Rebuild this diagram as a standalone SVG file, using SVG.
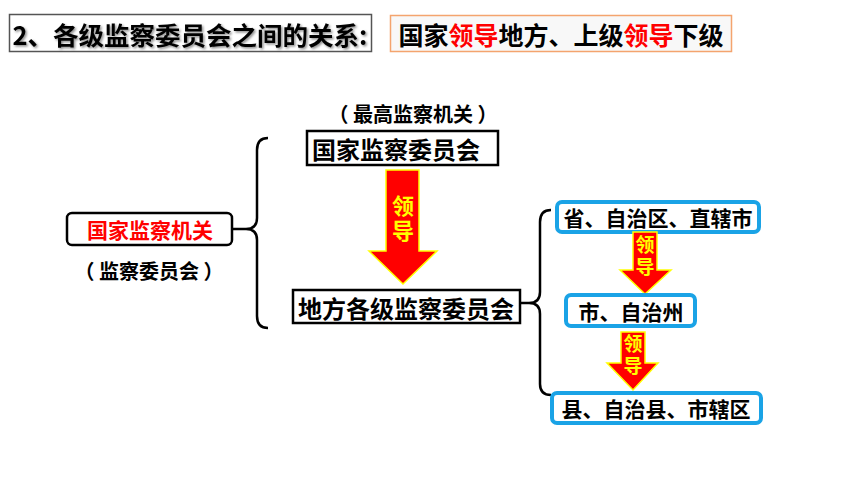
<svg xmlns="http://www.w3.org/2000/svg" width="860" height="484" viewBox="0 0 860 484">
<defs>
<style>
text{font-family:"Noto Sans CJK SC","Noto Sans",sans-serif;font-weight:bold;text-anchor:middle;dominant-baseline:central}
.blk{fill:#000}
.red{fill:#ff0000}
.ylw{fill:#ffff00}
.vt{writing-mode:vertical-rl;text-orientation:upright;letter-spacing:3px}
.box{fill:#fff;stroke:#000;stroke-width:2.5}
.bbox{fill:#fff;stroke:#1aa3e6;stroke-width:4}
.arrow{fill:#ff0000;stroke:#ffff00;stroke-width:1.5}
.brace{fill:none;stroke:#000;stroke-width:2.5}
</style>
<filter id="sh" x="-5%" y="-20%" width="110%" height="140%">
<feDropShadow dx="1.5" dy="1.5" stdDeviation="0.8" flood-color="#000" flood-opacity="0.45"/>
</filter>
</defs>
<rect width="860" height="484" fill="#fff"/>

<g id="title">
<rect x="9.5" y="14.5" width="362" height="37" fill="#fff" stroke="#555" stroke-width="1.5"/>
<text x="190" y="33" font-size="25.5" class="blk" filter="url(#sh)">2、各级监察委员会之间的关系:</text>
</g>

<g id="principle">
<rect x="390.5" y="15.5" width="341" height="36" fill="#f8f8f8" stroke="#f4a46e" stroke-width="1.5"/>
<text x="561" y="34" font-size="25" class="blk">国家<tspan class="red">领导</tspan>地方、上级<tspan class="red">领导</tspan>下级</text>
</g>

<g id="connectors">
<path class="brace" d="M268,138 Q257,138 257,150 L257,218 Q257,229 246,229 L233,229 M246,229 Q257,229 257,240 L257,316 Q257,328 268,328"/>
<path class="brace" d="M551,210 Q540,210 540,222 L540,292 Q540,303 529,303 L520,303 M529,303 Q540,303 540,314 L540,384 Q540,395 551,395"/>
</g>

<g id="national-organ">
<rect class="box" x="67" y="213" width="165" height="32" rx="5"/>
<text x="150" y="229" font-size="21" class="red">国家监察机关</text>
<text x="149" y="270" font-size="20" class="blk" xml:space="preserve">（ 监察委员会 ）</text>
</g>

<g id="national-commission">
<text x="413" y="113" font-size="20" class="blk" xml:space="preserve">（ 最高监察机关 ）</text>
<rect class="box" x="307" y="131" width="191" height="34"/>
<text x="396" y="148" font-size="24" class="blk">国家监察委员会</text>
</g>

<g id="arrow-main">
<path class="arrow" d="M386,170 L419,170 L419,251 L437,251 L403,284 L369,251 L386,251 Z"/>
<text x="403" y="220" font-size="22" class="ylw vt">领导</text>
</g>

<g id="local-commissions">
<rect class="box" x="293" y="290" width="227" height="33"/>
<text x="406" y="307" font-size="24" class="blk">地方各级监察委员会</text>
</g>

<g id="province">
<rect class="bbox" x="557" y="202" width="202" height="30" rx="5"/>
<text x="658" y="217" font-size="21" class="blk">省、自治区、直辖市</text>
</g>

<g id="arrow-1">
<path class="arrow" d="M633,232 L657,232 L657,270 L671,270 L645,294 L620,270 L633,270 Z"/>
<text x="645" y="257" font-size="19" class="ylw vt">领导</text>
</g>

<g id="city">
<rect class="bbox" x="566" y="295" width="129" height="31" rx="5"/>
<text x="631" y="311" font-size="21" class="blk">市、自治州</text>
</g>

<g id="arrow-2">
<path class="arrow" d="M621,332 L645,332 L645,363 L658,363 L633,390 L607,363 L621,363 Z"/>
<text x="633" y="356" font-size="19" class="ylw vt">领导</text>
</g>

<g id="county">
<rect class="bbox" x="552" y="393" width="209" height="30" rx="5"/>
<text x="656" y="408" font-size="21" class="blk">县、自治县、市辖区</text>
</g>
</svg>
